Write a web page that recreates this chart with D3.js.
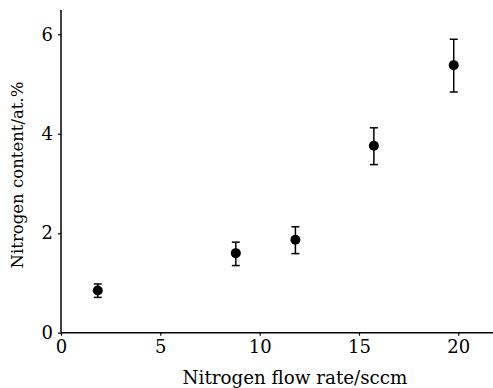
<!DOCTYPE html>
<html><head><meta charset="utf-8">
<script src="https://cdn.jsdelivr.net/npm/d3@7"></script>
<style>body{margin:0;background:#fff}svg{display:block}text{font-family:"DejaVu Serif",serif;fill:#000}</style>
</head><body><svg id="c" width="493" height="388"></svg>
<script>
const flowRate = [1.85, 8.8, 11.8, 15.75, 19.77];
const content = [0.85, 1.6, 1.87, 3.76, 5.38];
const errLow = [0.14, 0.25, 0.28, 0.38, 0.54];
const errHigh = [0.13, 0.22, 0.26, 0.36, 0.52];
const xTicks = [0, 5, 10, 15, 20];
const yTicks = [0, 2, 4, 6];
const xTitle = "Nitrogen flow rate/sccm";
const yTitle = "Nitrogen content/at.%";

const svg = d3.select("#c");
const x = d3.scaleLinear().domain([0, 20]).range([61, 458.3]);
const y = d3.scaleLinear().domain([0, 6]).range([332.7, 34.3]);
const xMaxPx = 493, yTopPx = 10;

const gx = svg.append("g").attr("transform", `translate(0,${y(0)})`)
  .call(d3.axisBottom(x).tickValues(xTicks).tickFormat(d3.format("d")).tickSize(3).tickPadding(5).tickSizeOuter(0));
gx.select(".domain").attr("d", `M${x(0)},0H${xMaxPx}`);
const gy = svg.append("g").attr("transform", `translate(${x(0)},0)`)
  .call(d3.axisLeft(y).tickValues(yTicks).tickFormat(d3.format("d")).tickSize(3).tickPadding(5).tickSizeOuter(0));
gy.select(".domain").attr("d", `M0,${yTopPx}V${y(0)}`);
svg.selectAll(".domain").attr("stroke", "#000").attr("stroke-width", 1.5);
svg.selectAll(".tick line").attr("stroke", "#000").attr("stroke-width", 1.2);
svg.selectAll(".tick text").style("font-family", '"DejaVu Serif",serif').style("font-size", "18px").attr("fill", "#000");

svg.append("text").attr("x", 295).attr("y", 384)
  .attr("text-anchor", "middle").style("font-size", "18.3px").text(xTitle);
svg.append("text").attr("transform", `translate(23,175) rotate(-90)`)
  .attr("text-anchor", "middle").style("font-size", "16.5px").text(yTitle);

const data = flowRate.map((v, i) => ({x: v, y: content[i], lo: content[i] - errLow[i], hi: content[i] + errHigh[i]}));
const g = svg.append("g");
const eb = g.selectAll("g.e").data(data).join("g").attr("class", "e");
eb.append("line").attr("x1", d => x(d.x)).attr("x2", d => x(d.x)).attr("y1", d => y(d.lo)).attr("y2", d => y(d.hi)).attr("stroke", "#000").attr("stroke-width", 1.5);
eb.append("line").attr("x1", d => x(d.x) - 4).attr("x2", d => x(d.x) + 4).attr("y1", d => y(d.lo)).attr("y2", d => y(d.lo)).attr("stroke", "#000").attr("stroke-width", 1.5);
eb.append("line").attr("x1", d => x(d.x) - 4).attr("x2", d => x(d.x) + 4).attr("y1", d => y(d.hi)).attr("y2", d => y(d.hi)).attr("stroke", "#000").attr("stroke-width", 1.5);
g.selectAll("circle").data(data).join("circle").attr("cx", d => x(d.x)).attr("cy", d => y(d.y)).attr("r", 5).attr("fill", "#000");
</script></body></html>
